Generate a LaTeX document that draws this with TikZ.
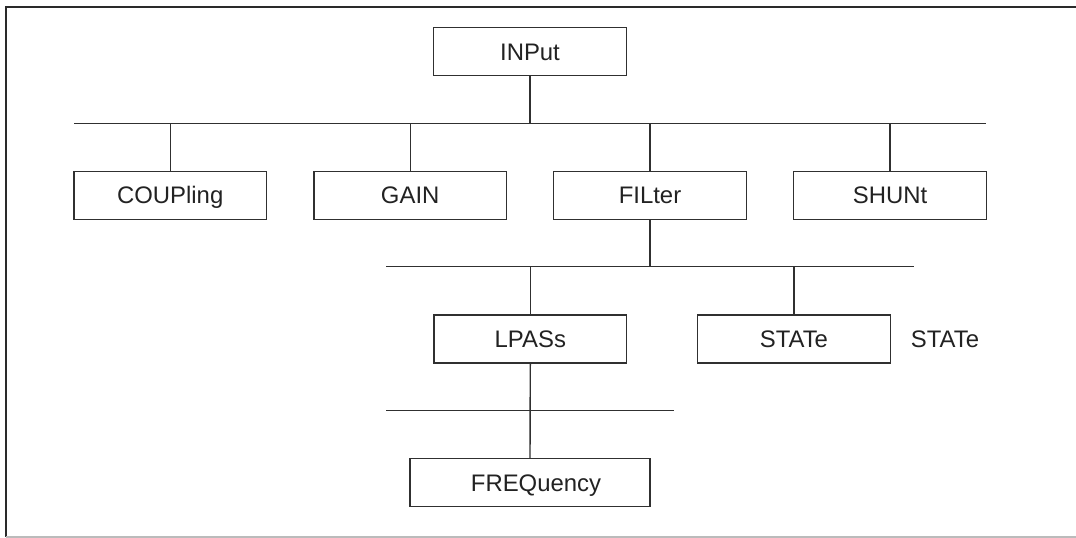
\documentclass[tikz,border=0pt]{standalone}
\usepackage{fontspec}
\setmainfont{Liberation Sans}
\definecolor{linecol}{HTML}{303030}
\definecolor{textcol}{HTML}{222222}
\definecolor{framecol}{HTML}{2A2A2A}
\definecolor{bottomcol}{HTML}{BBBBBB}
\tikzset{
  box/.style={draw=linecol, line width=1.4pt, rectangle, inner sep=0pt,
    minimum width=192.6pt, minimum height=48pt, text=textcol,
    font=\fontsize{23.9}{28}\selectfont, text height=17pt, text depth=0pt},
  widebox/.style={box, minimum width=240pt},
  plainlabel/.style={inner sep=0pt, text=textcol,
    font=\fontsize{23.9}{28}\selectfont, text height=17pt, text depth=0pt},
  conn/.style={draw=linecol, line width=1.4pt},
  frameline/.style={draw=framecol, line width=2pt},
}
\begin{document}
\begin{tikzpicture}[x=1pt,y=-1pt]
\useasboundingbox (0,0) rectangle (1076,538);
% frame
\coordinate (ftr) at (1076,6.7);
\coordinate (ftl) at (5.5,6.7);
\coordinate (fbl) at (5.5,537.2);
\coordinate (fbr) at (1076,537.2);
\draw[frameline] (ftr) -- (ftl) -- (fbl);
\draw[draw=bottomcol, line width=1.6pt] (fbl) -- (fbr);

% nodes
\node[box] (input) at (530,51.7) {INPut};
\node[box] (coupling) at (170.2,195.2) {COUPling};
\node[box] (gain) at (410.2,195.2) {GAIN};
\node[box] (filter) at (650,195.2) {FILter};
\node[box] (shunt) at (890,195.2) {SHUNt};
\node[box] (lpass) at (530.3,338.8) {LPASs};
\node[box] (state) at (793.9,338.8) {STATe};
\node[plainlabel] (statelbl) at (945,338.8) {STATe};
\node[widebox] (freq) at (530,482.5) {\hspace*{12pt}FREQuency};

% bus coordinates
\coordinate (b1l) at (74,123.3);
\coordinate (b1r) at (986,123.3);
\coordinate (b2l) at (386,266.7);
\coordinate (b2r) at (914,266.7);
\coordinate (b3l) at (386,410.7);
\coordinate (b3r) at (674,410.7);

% level 1
\draw[conn] (b1l) -- (b1r);
\draw[conn] (input.south) -- (input.south |- b1l);
\draw[conn] (coupling.north |- b1l) -- (coupling.north);
\draw[conn] (gain.north |- b1l) -- (gain.north);
\draw[conn] (filter.north |- b1l) -- (filter.north);
\draw[conn] (shunt.north |- b1l) -- (shunt.north);

% level 2
\draw[conn] (b2l) -- (b2r);
\draw[conn] (filter.south) -- (filter.south |- b2l);
\draw[conn] (lpass.north |- b2l) -- (lpass.north);
\draw[conn] (state.north |- b2l) -- (state.north);

% level 3
\draw[conn] (b3l) -- (b3r);
\draw[conn] (lpass.south) -- (freq.north);
\end{tikzpicture}
\end{document}
